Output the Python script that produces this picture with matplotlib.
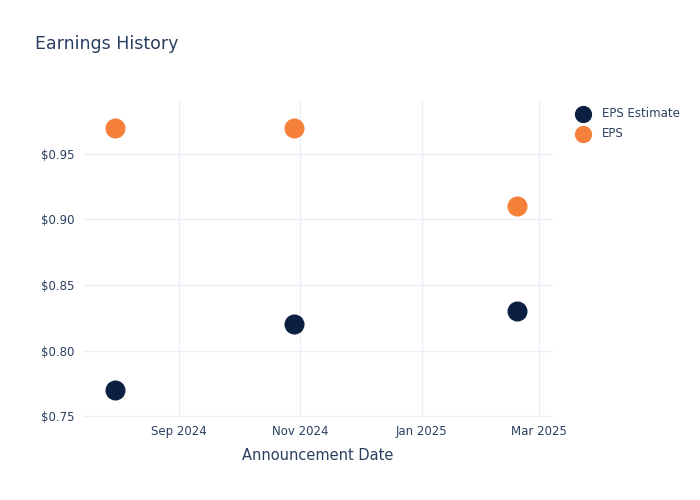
import matplotlib
matplotlib.use("Agg")
import matplotlib.pyplot as plt
import numpy as np

dates = np.array(['2024-07-31', '2024-10-29', '2025-02-18'], dtype='datetime64[D]')
eps_estimate = [0.77, 0.82, 0.83]
eps_actual = [0.97, 0.97, 0.91]
tick_dates = np.array(['2024-09-01', '2024-11-01', '2025-01-01', '2025-03-01'], dtype='datetime64[D]')
tick_labels = ['Sep 2024', 'Nov 2024', 'Jan 2025', 'Mar 2025']
y_ticks = [0.75, 0.80, 0.85, 0.90, 0.95]

text_col = '#2a3f5f'
grid_col = '#ebf0f8'

fig = plt.figure(figsize=(7, 5), dpi=100)
ax = fig.add_axes([83 / 700, 83 / 500, 470 / 700, 317 / 500])

ax.scatter(dates, eps_estimate, s=180, color='#0b1f40', label='EPS Estimate', zorder=3)
ax.scatter(dates, eps_actual, s=180, color='#f5803a', label='EPS', zorder=3)

ax.set_xlim(np.datetime64('2024-07-15'), np.datetime64('2025-03-08'))
ax.set_ylim(0.7495, 0.991)
ax.set_xticks(tick_dates)
ax.set_xticklabels(tick_labels)
ax.set_yticks(y_ticks)
ax.set_yticklabels(['$%.2f' % v for v in y_ticks])
ax.tick_params(length=0, labelsize=8.5, colors=text_col, pad=6)
ax.grid(True, color=grid_col, linewidth=1)
ax.set_axisbelow(True)
for s in ax.spines.values():
    s.set_visible(False)

ax.set_xlabel('Announcement Date', fontsize=10.5, color=text_col, labelpad=7)
fig.text(35 / 700, 1 - 44 / 500, 'Earnings History', fontsize=12.5, color=text_col, va='center')

leg = ax.legend(loc='upper left', bbox_to_anchor=(1.017, 1.01), frameon=False,
                fontsize=8.5, handletextpad=0.6, labelspacing=0.55, markerscale=0.85)
for t in leg.get_texts():
    t.set_color(text_col)

fig.savefig('out.png', dpi=100)
